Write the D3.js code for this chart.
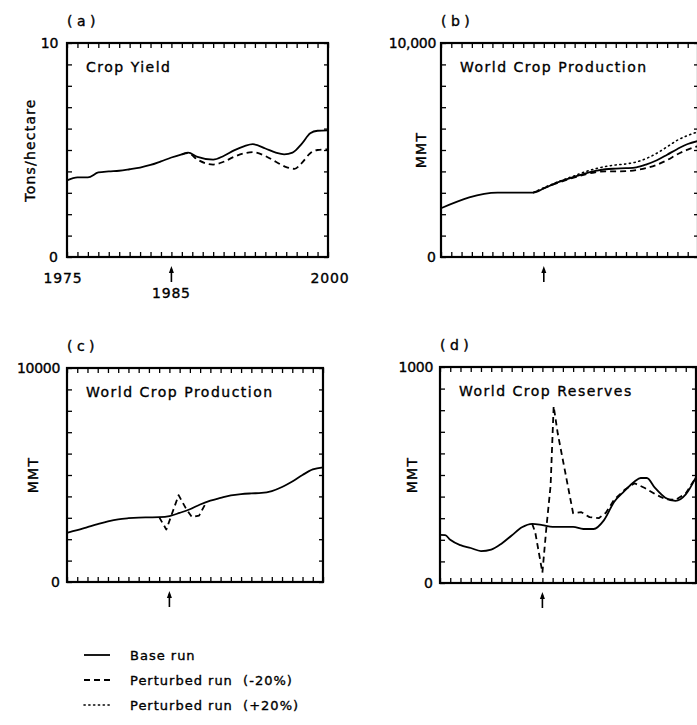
<!DOCTYPE html>
<html>
<head>
<meta charset="utf-8">
<script src="https://cdn.jsdelivr.net/npm/d3@7"></script>
<style>
  html, body { margin: 0; padding: 0; background: #fff; }
  svg { display: block; }
  text { font-family: "DejaVu Sans", sans-serif; fill: #000; stroke: #000; stroke-width: 0.35px; }
</style>
</head>
<body>
<svg id="chart" width="697" height="725"></svg>
<script>
// ---- (a) Crop yield, tons/hectare ----
const yieldBaseYears  = [1975,1976,1977,1978,1979,1980,1981,1982,1983,1984,1985,1986,1986.6,1987.5,1989,1990,1991,1992,1992.8,1994,1995,1995.8,1996.6,1997.5,1998.3,1999,2000];
const yieldBase       = [3.58,3.72,3.72,3.95,4.00,4.03,4.10,4.18,4.30,4.47,4.65,4.80,4.88,4.68,4.55,4.72,4.98,5.18,5.27,5.07,4.88,4.80,4.88,5.30,5.78,5.90,5.92];
const yieldMinusYears = [1986,1986.6,1987.5,1988.5,1989,1990,1991,1992,1992.8,1994,1995,1996,1996.8,1997.5,1998.3,1999,2000];
const yieldMinus      = [4.80,4.85,4.55,4.35,4.32,4.45,4.68,4.85,4.90,4.72,4.45,4.20,4.12,4.40,4.85,5.00,5.03];

// ---- (b) World crop production, MMT (reduced / raised yield) ----
const prodBaseYears  = [1975,1980.5,1984,1985,1986,1987,1988,1989,1990,1991,1992,1993,1994,1995,1996,1997,1998,1999,2000];
const prodBase       = [2280,3010,3010,3200,3420,3600,3760,3900,4020,4100,4130,4150,4190,4330,4520,4780,5050,5280,5420];
const prodMinusYears = [1984,1986,1988,1990,1991,1992,1993,1994,1995,1996,1997,1998,1999,2000];
const prodMinus      = [3010,3400,3720,3960,4000,4000,4010,4060,4160,4310,4530,4800,5020,5180];
const prodPlusYears  = [1984,1986,1988,1989,1990,1991,1992,1993,1994,1995,1996,1997,1998,1999,2000];
const prodPlus       = [3010,3440,3800,3980,4120,4230,4300,4350,4440,4610,4850,5150,5460,5680,5850];

// ---- (c) World crop production, MMT (one-year shock) ----
const shockBaseYears = [1975,1976,1977,1978,1979,1980,1981,1982,1983,1984,1985,1986,1987,1988,1989,1990,1991,1992,1993,1994,1995,1996,1997,1998,1999,2000];
const shockBase      = [2300,2420,2560,2700,2830,2930,2980,3010,3020,3030,3080,3230,3400,3620,3800,3930,4050,4110,4140,4160,4250,4440,4700,5000,5260,5360];
const shockRunYears  = [1984,1984.7,1985.9,1986.6,1987.2,1987.9,1988.6];
const shockRun       = [3030,2450,4060,3450,3030,3100,3730];

// ---- (d) World crop reserves, MMT ----
const reserveBaseYears = [1975,1975.5,1976,1977,1978,1979,1980,1981,1982,1983,1984,1985,1986,1987,1988,1989,1990,1991,1992,1993,1994,1994.6,1995.2,1996,1997,1998,1999,2000];
const reserveBase      = [223,222,200,175,162,148,155,182,220,258,274,268,260,260,260,250,250,290,375,425,470,486,486,440,395,380,410,490];
const reserveRunYears  = [1984,1984.3,1985,1985.4,1985.8,1986.1,1986.5,1987.2,1988,1988.8,1989.6,1990.5,1991.2,1992,1993,1994,1995,1996,1997,1998,1999,2000];
const reserveRun       = [274,235,48,262,450,818,692,520,323,328,305,300,325,385,430,462,440,412,388,385,415,490];

// ---- axis text ----
const yearStart = 1975, yearEnd = 2000, markYear = 1985;
const legendLabels = ["Base run", "Perturbed run  (-20%)", "Perturbed run  (+20%)"];

// ---- line styles ----
const STYLE = {
  base:  { dash: null,      width: 1.8, cap: "butt" },
  minus: { dash: "6,4",     width: 1.8, cap: "butt" },
  plus:  { dash: "1.2,3.6", width: 1.6, cap: "round" }
};

const svg = d3.select("#chart");

const panels = [
  { tag: "( a )", left: 67,  top: 43,  w: 261, h: 214, ymax: 10,    topLabel: "10",     ylabel: "Tons/hectare", ylabelDx: -37, labelGap: 9,
    title: "Crop Yield", yearLabels: true,
    series: [
      { xs: yieldBaseYears,  ys: yieldBase,  style: "base",  curve: d3.curveMonotoneX },
      { xs: yieldMinusYears, ys: yieldMinus, style: "minus", curve: d3.curveMonotoneX }
    ] },
  { tag: "( b )", left: 441, top: 43,  w: 257, h: 214, ymax: 10000, topLabel: "10,000", ylabel: "MMT", ylabelDx: -20, labelGap: 5,
    title: "World Crop Production",
    series: [
      { xs: prodPlusYears,  ys: prodPlus,  style: "plus",  curve: d3.curveMonotoneX },
      { xs: prodMinusYears, ys: prodMinus, style: "minus", curve: d3.curveMonotoneX },
      { xs: prodBaseYears,  ys: prodBase,  style: "base",  curve: d3.curveMonotoneX }
    ] },
  { tag: "( c )", left: 67,  top: 368, w: 256, h: 214, ymax: 10000, topLabel: "10000",  ylabel: "MMT", ylabelDx: -34, labelGap: 7,
    title: "World Crop Production",
    series: [
      { xs: shockBaseYears, ys: shockBase, style: "base",  curve: d3.curveMonotoneX },
      { xs: shockRunYears,  ys: shockRun,  style: "minus", curve: d3.curveLinear }
    ] },
  { tag: "( d )", left: 440, top: 367, w: 256, h: 216, ymax: 1000,  topLabel: "1000",   ylabel: "MMT", ylabelDx: -28, labelGap: 7,
    title: "World Crop Reserves",
    series: [
      { xs: reserveBaseYears, ys: reserveBase, style: "base",  curve: d3.curveMonotoneX },
      { xs: reserveRunYears,  ys: reserveRun,  style: "minus", curve: d3.curveLinear }
    ] }
];

panels.forEach(p => {
  const g = svg.append("g").attr("transform", `translate(${p.left},${p.top})`);
  const x = d3.scaleLinear().domain([yearStart, yearEnd]).range([0, p.w]);
  const y = d3.scaleLinear().domain([0, p.ymax]).range([p.h, 0]);
  const yearTicks = d3.range(yearStart, yearEnd + 1);
  const valTicks = d3.range(0, 11).map(i => i * p.ymax / 10);

  // inward tick marks on all four sides
  const axes = [
    { ax: d3.axisTop(x).tickValues(yearTicks).tickSize(-5), t: "translate(0,0)" },
    { ax: d3.axisBottom(x).tickValues(yearTicks).tickSize(-5), t: `translate(0,${p.h})` },
    { ax: d3.axisLeft(y).tickValues(valTicks).tickSize(-5), t: "translate(0,0)" },
    { ax: d3.axisRight(y).tickValues(valTicks).tickSize(-4), t: `translate(${p.w},0)` }
  ];
  axes.forEach(a => {
    const ag = g.append("g").attr("transform", a.t).call(a.ax.tickFormat(""));
    ag.select(".domain").remove();
    ag.selectAll(".tick line").attr("stroke", "#000").attr("stroke-width", 1.3);
  });

  // frame
  g.append("rect").attr("x", 0).attr("y", 0).attr("width", p.w).attr("height", p.h)
    .attr("fill", "none").attr("stroke", "#000").attr("stroke-width", 2.2);

  // data lines
  p.series.forEach(s => {
    const st = STYLE[s.style];
    const pts = s.xs.map((v, i) => [v, s.ys[i]]);
    const line = d3.line().x(d => x(d[0])).y(d => y(d[1])).curve(s.curve);
    g.append("path").attr("d", line(pts))
      .attr("fill", "none").attr("stroke", "#000")
      .attr("stroke-width", st.width)
      .attr("stroke-linecap", st.cap)
      .attr("stroke-linejoin", "round")
      .attr("stroke-dasharray", st.dash);
  });

  // value labels at the ends of the vertical axis
  g.append("text").attr("x", -p.labelGap).attr("y", y(p.ymax) + 5).attr("text-anchor", "end")
    .attr("font-size", 14).attr("letter-spacing", -0.3).text(p.topLabel);
  g.append("text").attr("x", -p.labelGap).attr("y", y(0) + 5).attr("text-anchor", "end")
    .attr("font-size", 14).text("0");

  // vertical axis title
  g.append("text")
    .attr("transform", `translate(${p.ylabelDx},${p.h / 2}) rotate(-90)`)
    .attr("text-anchor", "middle").attr("dominant-baseline", "central")
    .attr("font-size", 14).attr("letter-spacing", 1.2).text(p.ylabel);

  // panel tag and title
  g.append("text").attr("x", 0).attr("y", -17).attr("font-size", 14)
    .attr("xml:space", "preserve").text(p.tag);
  g.append("text").attr("x", 19).attr("y", 29).attr("font-size", 14)
    .attr("letter-spacing", 1.5).text(p.title);

  // arrow marking the perturbation year
  const ax0 = x(markYear);
  g.append("line").attr("x1", ax0).attr("x2", ax0).attr("y1", p.h + 12).attr("y2", p.h + 25)
    .attr("stroke", "#000").attr("stroke-width", 1.6);
  g.append("path")
    .attr("d", `M${ax0 - 2.5},${p.h + 16} L${ax0},${p.h + 9} L${ax0 + 2.5},${p.h + 16} Z`)
    .attr("fill", "#000");

  if (p.yearLabels) {
    g.append("text").attr("x", x(yearStart) - 4).attr("y", p.h + 26).attr("text-anchor", "middle")
      .attr("font-size", 14).attr("letter-spacing", 0.8).text(String(yearStart));
    g.append("text").attr("x", x(yearEnd) + 2).attr("y", p.h + 26).attr("text-anchor", "middle")
      .attr("font-size", 14).attr("letter-spacing", 0.8).text(String(yearEnd));
    g.append("text").attr("x", x(markYear)).attr("y", p.h + 41).attr("text-anchor", "middle")
      .attr("font-size", 14).attr("letter-spacing", 0.8).text(String(markYear));
  }
});

// legend
const legendStyles = ["base", "minus", "plus"];
const legend = svg.append("g").attr("transform", "translate(84,655)");
legendStyles.forEach((k, i) => {
  const st = STYLE[k];
  const row = legend.append("g").attr("transform", `translate(0,${i * 25})`);
  row.append("line").attr("x1", 0).attr("x2", 26).attr("y1", 0).attr("y2", 0)
    .attr("stroke", "#000").attr("stroke-width", st.width)
    .attr("stroke-linecap", st.cap).attr("stroke-dasharray", st.dash);
  row.append("text").attr("x", 46).attr("y", 5).attr("font-size", 13)
    .attr("letter-spacing", 1.0).attr("xml:space", "preserve").text(legendLabels[i]);
});
</script>
</body>
</html>
